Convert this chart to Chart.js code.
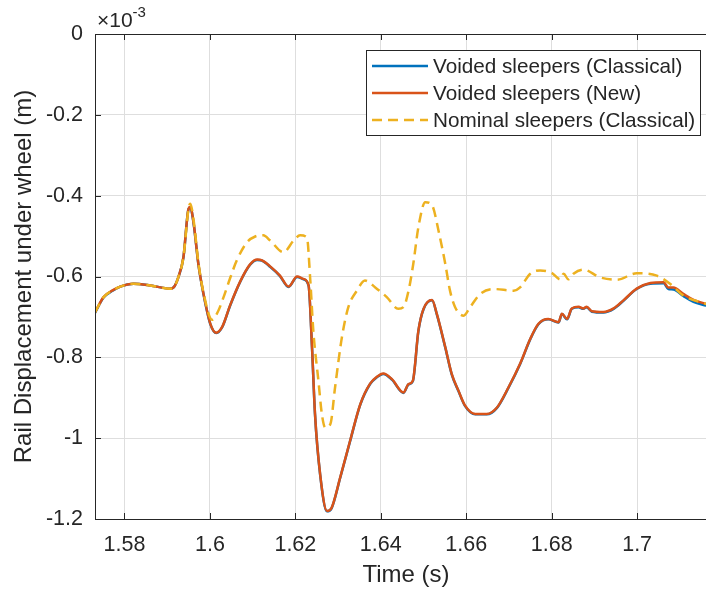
<!DOCTYPE html>
<html>
<head>
<meta charset="utf-8">
<title>Rail displacement under wheel</title>
<script src="https://cdn.jsdelivr.net/npm/chart.js@4.4.1/dist/chart.umd.min.js"></script>
<style>
  html, body { margin: 0; padding: 0; background: #fff; overflow: hidden; }
  #wrap { width: 720px; height: 595px; }
</style>
</head>
<body>
<div id="wrap"><canvas id="chart" width="720" height="595"></canvas></div>
<script>
// tick positions (time in s, displacement in 1e-3 m)
const xTicks = [1.58, 1.60, 1.62, 1.64, 1.66, 1.68, 1.70];
const yTicks = [0, -0.2, -0.4, -0.6, -0.8, -1.0, -1.2];

// Voided sleepers (New)
const timeNew = [1.5731, 1.5751, 1.5771, 1.5790, 1.5821, 1.5860, 1.5907, 1.5915, 1.5926, 1.5938,
  1.5950, 1.5954, 1.5962, 1.5973, 1.5985, 1.6001, 1.6015, 1.6029, 1.6047, 1.6071,
  1.6094, 1.6111, 1.6122, 1.6141, 1.6164, 1.6184, 1.6204, 1.6219, 1.6231, 1.6239,
  1.6246, 1.6258, 1.6274, 1.6285, 1.6305, 1.6328, 1.6352, 1.6375, 1.6391, 1.6406,
  1.6426, 1.6453, 1.6465, 1.6475, 1.6488, 1.6500, 1.6520, 1.6531, 1.6551, 1.6566,
  1.6582, 1.6597, 1.6621, 1.6648, 1.6672, 1.6699, 1.6726, 1.6750, 1.6769, 1.6792,
  1.6816, 1.6824, 1.6836, 1.6847, 1.6863, 1.6874, 1.6882, 1.6894, 1.6921, 1.6945,
  1.6968, 1.6999, 1.7031, 1.7062, 1.7073, 1.7085, 1.7108, 1.7132, 1.7162, 1.7187];
const dispNew = [-0.689, -0.651, -0.635, -0.625, -0.618, -0.622, -0.630, -0.627, -0.602, -0.552,
  -0.432, -0.428, -0.469, -0.569, -0.643, -0.717, -0.739, -0.724, -0.672, -0.612,
  -0.570, -0.558, -0.560, -0.575, -0.598, -0.625, -0.600, -0.606, -0.622, -0.775,
  -0.940, -1.089, -1.180, -1.172, -1.097, -1.007, -0.916, -0.865, -0.848, -0.840,
  -0.854, -0.887, -0.866, -0.858, -0.734, -0.680, -0.658, -0.692, -0.775, -0.841,
  -0.883, -0.919, -0.940, -0.940, -0.924, -0.874, -0.816, -0.754, -0.717, -0.705,
  -0.713, -0.692, -0.705, -0.679, -0.675, -0.679, -0.675, -0.686, -0.688, -0.679,
  -0.659, -0.630, -0.616, -0.614, -0.627, -0.627, -0.643, -0.658, -0.668, -0.677];

// Voided sleepers (Classical) - blue, almost entirely hidden under the red curve
const timeClassical = timeNew;
const dispClassical = [-0.690, -0.652, -0.636, -0.625, -0.618, -0.622, -0.630, -0.627, -0.602, -0.553,
  -0.433, -0.429, -0.470, -0.570, -0.644, -0.718, -0.740, -0.725, -0.673, -0.613,
  -0.571, -0.559, -0.561, -0.576, -0.599, -0.626, -0.601, -0.607, -0.623, -0.776,
  -0.941, -1.090, -1.181, -1.173, -1.098, -1.008, -0.917, -0.866, -0.849, -0.841,
  -0.855, -0.888, -0.867, -0.859, -0.735, -0.681, -0.659, -0.693, -0.776, -0.842,
  -0.884, -0.920, -0.941, -0.941, -0.925, -0.875, -0.817, -0.755, -0.718, -0.706,
  -0.714, -0.693, -0.706, -0.680, -0.676, -0.680, -0.676, -0.687, -0.689, -0.680,
  -0.660, -0.631, -0.618, -0.617, -0.631, -0.632, -0.648, -0.663, -0.672, -0.680];

// Nominal sleepers (Classical) - yellow dashed curve
const timeNominal = [1.5731, 1.5751, 1.5771, 1.5790, 1.5821, 1.5860, 1.5907, 1.5915, 1.5926, 1.5938,
  1.5950, 1.5954, 1.5962, 1.5973, 1.5985, 1.6005, 1.6020, 1.6032, 1.6047, 1.6063,
  1.6087, 1.6106, 1.6125, 1.6141, 1.6172, 1.6196, 1.6211, 1.6227, 1.6235, 1.6242,
  1.6254, 1.6262, 1.6270, 1.6282, 1.6293, 1.6309, 1.6324, 1.6344, 1.6363, 1.6387,
  1.6414, 1.6441, 1.6453, 1.6465, 1.6476, 1.6488, 1.6504, 1.6516, 1.6523, 1.6535,
  1.6551, 1.6562, 1.6574, 1.6594, 1.6609, 1.6633, 1.6664, 1.6711, 1.6726, 1.6750,
  1.6773, 1.6800, 1.6820, 1.6828, 1.6839, 1.6851, 1.6874, 1.6913, 1.6953, 1.6999,
  1.7046, 1.7077, 1.7108, 1.7162, 1.7187];
const dispNominal = [-0.689, -0.651, -0.635, -0.625, -0.618, -0.622, -0.630, -0.627, -0.602, -0.552,
  -0.432, -0.420, -0.462, -0.565, -0.640, -0.707, -0.684, -0.651, -0.605, -0.560,
  -0.515, -0.501, -0.498, -0.511, -0.540, -0.511, -0.498, -0.503, -0.610, -0.734,
  -0.858, -0.940, -0.974, -0.965, -0.874, -0.750, -0.676, -0.635, -0.610, -0.627,
  -0.651, -0.680, -0.676, -0.635, -0.569, -0.478, -0.416, -0.419, -0.431, -0.486,
  -0.569, -0.635, -0.676, -0.697, -0.676, -0.643, -0.631, -0.635, -0.627, -0.593,
  -0.585, -0.591, -0.607, -0.593, -0.607, -0.593, -0.583, -0.602, -0.608, -0.592,
  -0.598, -0.618, -0.647, -0.668, -0.677];

const toPoints = (xs, ys) => xs.map((x, i) => ({ x: x, y: ys[i] }));

const FONT = "'Liberation Sans', Arial, Helvetica, sans-serif";
const INK = '#262626';
Chart.defaults.font.family = FONT;
Chart.defaults.color = INK;

// MATLAB style box, inward ticks, exponent label and inset legend
const matlabAxes = {
  id: 'matlabAxes',
  afterDatasetsDraw(chart) {
    const { ctx, chartArea: a, scales: { x, y } } = chart;
    ctx.save();
    ctx.strokeStyle = INK;
    ctx.lineWidth = 1;
    ctx.strokeRect(a.left + 0.5, a.top + 0.5, a.right - a.left, a.bottom - a.top);
    ctx.beginPath();
    xTicks.forEach(v => {
      const px = Math.round(x.getPixelForValue(v)) + 0.5;
      ctx.moveTo(px, a.bottom); ctx.lineTo(px, a.bottom - 6);
      ctx.moveTo(px, a.top); ctx.lineTo(px, a.top + 6);
    });
    yTicks.forEach(v => {
      const py = Math.round(y.getPixelForValue(v)) + 0.5;
      ctx.moveTo(a.left, py); ctx.lineTo(a.left + 6, py);
      ctx.moveTo(a.right, py); ctx.lineTo(a.right - 6, py);
    });
    ctx.stroke();

    // x10^-3 multiplier
    ctx.fillStyle = INK;
    ctx.textBaseline = 'alphabetic';
    ctx.textAlign = 'left';
    ctx.font = '21px ' + FONT;
    ctx.fillText('\u00d710', a.left + 2, 27);
    const w = ctx.measureText('\u00d710').width;
    ctx.font = '15px ' + FONT;
    ctx.fillText('-3', a.left + 2 + w, 17);
    ctx.restore();
  },
  afterDraw(chart) {
    const { ctx } = chart;
    const box = { left: 366, top: 50, width: 334, height: 85 };
    ctx.save();
    ctx.fillStyle = '#fff';
    ctx.fillRect(box.left, box.top, box.width, box.height);
    ctx.strokeStyle = INK;
    ctx.lineWidth = 1;
    ctx.strokeRect(box.left + 0.5, box.top + 0.5, box.width, box.height);
    ctx.font = '20.7px ' + FONT;
    ctx.textBaseline = 'middle';
    ctx.textAlign = 'left';
    chart.data.datasets.forEach((ds, i) => {
      const cy = box.top + 16 + i * 27;
      ctx.beginPath();
      ctx.strokeStyle = ds.borderColor;
      ctx.lineWidth = ds.borderWidth;
      ctx.setLineDash(ds.borderDash || []);
      ctx.moveTo(372, cy);
      ctx.lineTo(428, cy);
      ctx.stroke();
      ctx.setLineDash([]);
      ctx.fillStyle = INK;
      ctx.fillText(ds.label, 433, cy + 1);
    });
    ctx.restore();
  }
};

new Chart(document.getElementById('chart'), {
  type: 'line',
  data: {
    datasets: [
      {
        label: 'Voided sleepers (Classical)',
        data: toPoints(timeClassical, dispClassical),
        borderColor: '#0072BD',
        borderWidth: 2.5,
        order: 2
      },
      {
        label: 'Voided sleepers (New)',
        data: toPoints(timeNew, dispNew),
        borderColor: '#D95319',
        borderWidth: 2.5,
        order: 1
      },
      {
        label: 'Nominal sleepers (Classical)',
        data: toPoints(timeNominal, dispNominal),
        borderColor: '#EDB120',
        borderWidth: 2.5,
        borderDash: [10, 6],
        order: 0
      }
    ]
  },
  options: {
    responsive: false,
    animation: false,
    events: [],
    elements: {
      point: { radius: 0 },
      line: { cubicInterpolationMode: 'monotone', fill: false }
    },
    layout: { padding: { top: 34, right: 3, left: 0, bottom: 0 } },
    scales: {
      x: {
        type: 'linear',
        min: 1.5731,
        max: 1.7187,
        afterBuildTicks: s => { s.ticks = xTicks.map(v => ({ value: v })); },
        afterFit: s => { s.height = 76; },
        grid: { color: '#dedede', drawTicks: false },
        border: { display: false },
        ticks: {
          font: { size: 21.5 },
          color: INK,
          padding: 13,
          maxRotation: 0,
          callback: v => String(+v.toFixed(2))
        },
        title: {
          display: true,
          text: 'Time (s)',
          font: { size: 24 },
          color: INK,
          padding: { top: 0, bottom: 5 }
        }
      },
      y: {
        min: -1.2,
        max: 0,
        afterBuildTicks: s => { s.ticks = yTicks.map(v => ({ value: v })); },
        afterFit: s => { s.width = 95; },
        grid: { color: '#dedede', drawTicks: false },
        border: { display: false },
        ticks: {
          font: { size: 21.5 },
          color: INK,
          padding: 12,
          callback: v => String(+v.toFixed(1))
        },
        title: {
          display: true,
          text: 'Rail Displacement under wheel (m)',
          font: { size: 24 },
          color: INK,
          padding: { top: 10, bottom: 0 }
        }
      }
    },
    plugins: {
      legend: { display: false },
      tooltip: { enabled: false }
    }
  },
  plugins: [matlabAxes]
});
</script>
</body>
</html>
